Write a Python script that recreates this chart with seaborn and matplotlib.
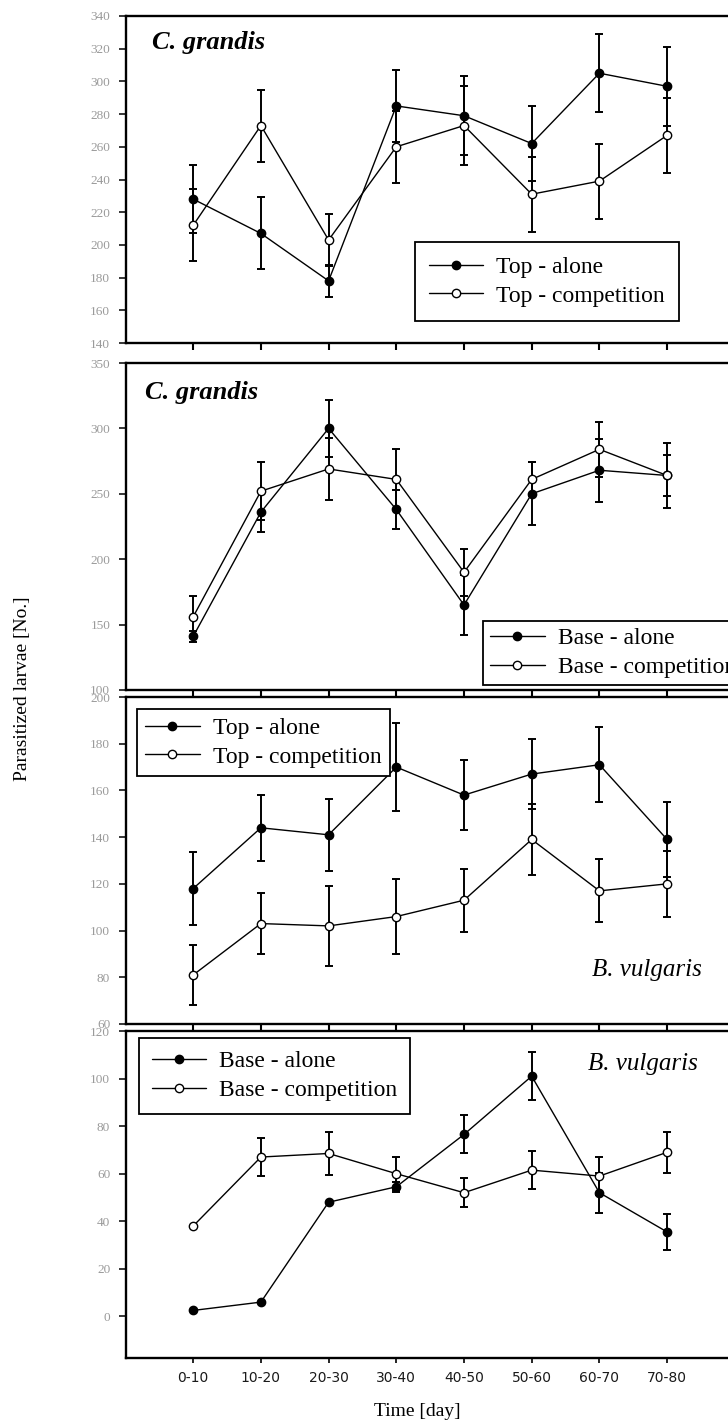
import numpy as np
import matplotlib
matplotlib.use("Agg")
import matplotlib.pyplot as plt
import seaborn as sns

periods = ['0-10', '10-20', '20-30', '30-40', '40-50', '50-60', '60-70', '70-80']

# C. grandis - top
cg_top_alone = [228, 207, 178, 285, 279, 262, 305, 297]
cg_top_alone_err = [21, 22, 10, 22, 24, 23, 24, 24]
cg_top_comp = [212, 273, 203, 260, 273, 231, 239, 267]
cg_top_comp_err = [22, 22, 16, 22, 24, 23, 23, 23]

# C. grandis - base
cg_base_alone = [141, 236, 300, 238, 165, 250, 268, 264]
cg_base_alone_err = [4, 15, 22, 15, 23, 24, 24, 16]
cg_base_comp = [156, 252, 269, 261, 190, 261, 284, 264]
cg_base_comp_err = [16, 22, 24, 23, 18, 13, 21, 25]

# B. vulgaris - top
bv_top_alone = [118, 144, 141, 170, 158, 167, 171, 139]
bv_top_alone_err = [15.5, 14, 15.5, 19, 15, 15, 16, 16]
bv_top_comp = [81, 103, 102, 106, 113, 139, 117, 120]
bv_top_comp_err = [13, 13, 17, 16, 13.5, 15, 13.5, 14]

# B. vulgaris - base
bv_base_alone = [2.5, 6, 48, 54.5, 76.5, 101, 52, 35.5]
bv_base_alone_err = [0, 0, 0, 2, 8, 10, 8.5, 7.5]
bv_base_comp = [38, 67, 68.5, 60, 52, 61.5, 59, 69]
bv_base_comp_err = [0, 8, 9, 7, 6, 8, 8, 8.5]

top_labels = ['Top - alone', 'Top - competition']
base_labels = ['Base - alone', 'Base - competition']

sns.set_theme(style='ticks')
plt.rcParams['font.family'] = ['Liberation Serif', 'DejaVu Serif']
plt.rcParams['text.color'] = 'black'
plt.rcParams['axes.labelcolor'] = 'black'

fig = plt.figure(figsize=(7.28, 14.25), dpi=100)
W, H = 728.0, 1425.0
left_px, step_px = 125.5, 67.7
right_px = left_px + 9 * step_px
x = np.arange(len(periods))


def add_axes(top_px, bottom_px):
    return fig.add_axes([left_px / W, 1 - bottom_px / H,
                         (right_px - left_px) / W, (bottom_px - top_px) / H])


def panel(ax, alone, alone_err, comp, comp_err, labels, ylim, yticks,
          species, sp_xy, bold, leg_kw, last=False):
    for y, e, fc, lab in [(alone, alone_err, 'black', labels[0]),
                          (comp, comp_err, 'white', labels[1])]:
        ax.errorbar(x, y, yerr=e, fmt='none', ecolor='black', elinewidth=1.4,
                    capsize=2.6, capthick=1.4, zorder=2)
        sns.lineplot(x=x, y=y, ax=ax, color='black', linewidth=1.0,
                     marker='o', markersize=6.0, markerfacecolor=fc,
                     markeredgecolor='black', markeredgewidth=1.0,
                     errorbar=None, label=lab, zorder=3)
    ax.set_xlim(-1, 8)
    ax.set_ylim(*ylim)
    ax.set_yticks(yticks)
    ax.set_xticks(x)
    ax.set_xlabel('')
    ax.set_ylabel('')
    for s in ax.spines.values():
        s.set_linewidth(1.7)
        s.set_color('black')
    ax.tick_params(axis='y', direction='out', length=5, width=1.1,
                   color='black', labelsize=9.5, labelcolor='#9a9a9a', pad=6)
    if last:
        ax.set_xticklabels(periods)
        ax.tick_params(axis='x', direction='out', length=3.5, width=1.2,
                       color='black', pad=6, labelsize=10,
                       labelcolor='#1a1a1a')
        for t in ax.get_xticklabels():
            t.set_family('DejaVu Sans')
    else:
        ax.tick_params(axis='x', direction='out', length=5, width=1.5,
                       color='black', labelbottom=False)
    ax.text(sp_xy[0], sp_xy[1], species, transform=ax.transAxes,
            fontsize=19 if bold else 18, fontstyle='italic',
            fontweight='bold' if bold else 'normal',
            ha='left', va='center', color='black')
    leg = ax.legend(frameon=True, fancybox=False, fontsize=17,
                    handlelength=2.3, handletextpad=0.55, labelspacing=0.3,
                    borderaxespad=0, **leg_kw)
    for t in leg.get_texts():
        t.set_color('black')
    leg.get_frame().set_edgecolor('black')
    leg.get_frame().set_linewidth(1.3)
    leg.get_frame().set_facecolor('white')
    leg.get_frame().set_alpha(1)


ax1 = add_axes(16, 343)
panel(ax1, cg_top_alone, cg_top_alone_err, cg_top_comp, cg_top_comp_err,
      top_labels, (140, 340), np.arange(140, 341, 20), 'C. grandis',
      (0.043, 0.92), True,
      dict(loc='lower left', bbox_to_anchor=(0.475, 0.068), borderpad=0.6))

ax2 = add_axes(363, 690)
panel(ax2, cg_base_alone, cg_base_alone_err, cg_base_comp, cg_base_comp_err,
      base_labels, (100, 350), np.arange(100, 351, 50), 'C. grandis',
      (0.032, 0.911), True,
      dict(loc='lower left', bbox_to_anchor=(0.587, 0.015), borderpad=0.3))

ax3 = add_axes(697, 1024)
panel(ax3, bv_top_alone, bv_top_alone_err, bv_top_comp, bv_top_comp_err,
      top_labels, (60, 200), np.arange(60, 201, 20), 'B. vulgaris',
      (0.765, 0.165), False,
      dict(loc='upper left', bbox_to_anchor=(0.019, 0.963), borderpad=0.35))

ax4 = add_axes(1031, 1358)
panel(ax4, bv_base_alone, bv_base_alone_err, bv_base_comp, bv_base_comp_err,
      base_labels, (-17.5, 120), np.arange(0, 121, 20), 'B. vulgaris',
      (0.759, 0.899), False,
      dict(loc='upper left', bbox_to_anchor=(0.022, 0.979), borderpad=0.55),
      last=True)

fig.text(23 / W, 1 - 689 / H, 'Parasitized larvae [No.]', rotation=90,
         ha='center', va='center', fontsize=14, color='black')
fig.text(417 / W, 1 - 1412 / H, 'Time [day]', ha='center', va='center',
         fontsize=14, color='black')

fig.savefig('out.png', dpi=100)
